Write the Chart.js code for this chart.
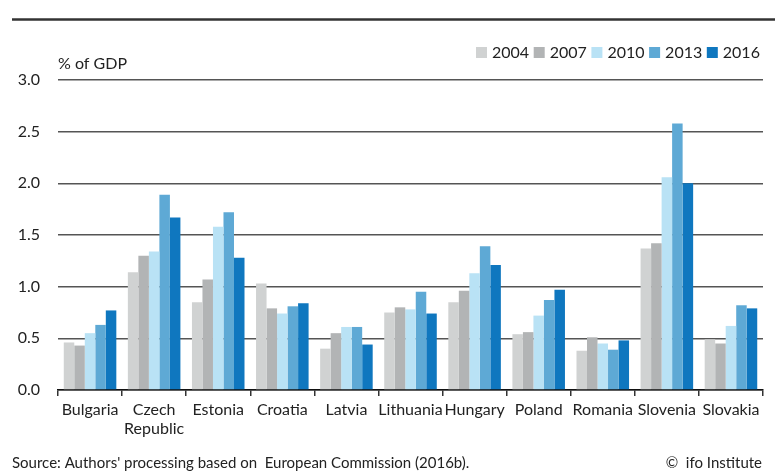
<!DOCTYPE html>
<html>
<head>
<meta charset="utf-8">
<script src="https://cdn.jsdelivr.net/npm/chart.js@4/dist/chart.umd.min.js"></script>
<style>
html,body{margin:0;padding:0;background:#fff;}
canvas{display:block;}
</style>
</head>
<body>
<canvas id="c" width="775" height="472"></canvas>
<script>
const categories = ['Bulgaria', ['Czech','Republic'], 'Estonia', 'Croatia', 'Latvia', 'Lithuania', 'Hungary', 'Poland', 'Romania', 'Slovenia', 'Slovakia'];
const years = ['2004', '2007', '2010', '2013', '2016'];
const v2004 = [0.46, 1.14, 0.85, 1.03, 0.40, 0.75, 0.85, 0.54, 0.38, 1.37, 0.49];
const v2007 = [0.43, 1.30, 1.07, 0.79, 0.55, 0.80, 0.96, 0.56, 0.51, 1.42, 0.45];
const v2010 = [0.55, 1.34, 1.58, 0.74, 0.61, 0.78, 1.13, 0.72, 0.45, 2.06, 0.62];
const v2013 = [0.63, 1.89, 1.72, 0.81, 0.61, 0.95, 1.39, 0.87, 0.39, 2.58, 0.82];
const v2016 = [0.77, 1.67, 1.28, 0.84, 0.44, 0.74, 1.21, 0.97, 0.48, 2.00, 0.79];
const yTicks = [0, 0.5, 1.0, 1.5, 2.0, 2.5, 3.0];
const unitLabel = '% of GDP';
const sourceText = "Source: Authors' processing based on  European Commission (2016b).";
const creditText = '\u00A9  ifo Institute';

const colors = ['#d0d2d2', '#b2b4b5', '#b9e2f5', '#5ea9d5', '#0f77bf'];
const series = [v2004, v2007, v2010, v2013, v2016];
const FONT = 'Lato, "Liberation Sans", sans-serif';
const TXT = '#222';

const decor = {
  id: 'decor',
  afterDraw(chart) {
    const ctx = chart.ctx;
    ctx.save();
    // top rule
    ctx.strokeStyle = '#333';
    ctx.lineWidth = 2.5;
    ctx.beginPath(); ctx.moveTo(12, 19.5); ctx.lineTo(775, 19.5); ctx.stroke();
    // unit label
    ctx.fillStyle = TXT;
    ctx.font = '16px ' + FONT;
    ctx.textBaseline = 'middle';
    ctx.textAlign = 'left';
    ctx.fillText(unitLabel, chart.chartArea.left, 64);
    // legend
    let x = 476;
    chart.data.datasets.forEach(ds => {
      ctx.fillStyle = ds.backgroundColor;
      ctx.fillRect(x, 47, 11, 11);
      ctx.fillStyle = TXT;
      ctx.fillText(ds.label, x + 16, 53);
      x += 57.7;
    });
    // footer
    ctx.font = '15px ' + FONT;
    ctx.fillText(sourceText, 12, 463);
    ctx.textAlign = 'right';
    ctx.fillText(creditText, 762, 463);
    ctx.restore();
  }
};

new Chart(document.getElementById('c'), {
  type: 'bar',
  data: {
    labels: categories,
    datasets: years.map((y, i) => ({
      label: y,
      data: series[i],
      backgroundColor: colors[i],
      borderWidth: 0,
      categoryPercentage: 0.82,
      barPercentage: 1.0
    }))
  },
  options: {
    responsive: false,
    animation: false,
    devicePixelRatio: 1,
    layout: { padding: { top: 80, left: 0, right: 12, bottom: 0 } },
    plugins: { legend: { display: false }, tooltip: { enabled: false }, title: { display: false } },
    scales: {
      x: {
        afterFit(s) { s.height = 82; },
        grid: { offset: true, drawOnChartArea: false, drawTicks: true, tickLength: 6, color: '#333', lineWidth: 1.5 },
        border: { display: true, color: '#111', width: 1.5 },
        ticks: { color: TXT, font: { family: FONT, size: 16 }, padding: 4, maxRotation: 0, autoSkip: false }
      },
      y: {
        min: 0, max: 3,
        afterFit(s) { s.width = 58; },
        afterBuildTicks(s) { s.ticks = yTicks.map(v => ({ value: v })); },
        grid: { color: '#555', lineWidth: 1.5, drawTicks: false },
        border: { display: false },
        ticks: { color: TXT, font: { family: FONT, size: 16 }, padding: 18, callback: v => Number(v).toFixed(1) }
      }
    }
  },
  plugins: [decor]
});
</script>
</body>
</html>
